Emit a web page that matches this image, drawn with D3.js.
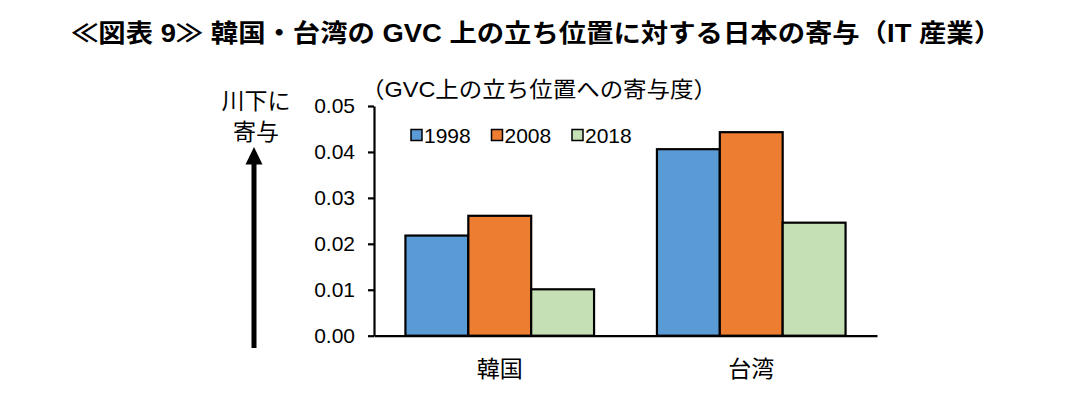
<!DOCTYPE html>
<html><head><meta charset="utf-8">
<script src="https://cdn.jsdelivr.net/npm/d3@7"></script>
<style>
body{margin:0;background:#fff;}
svg text{font-family:"Liberation Sans","Noto Sans CJK JP",sans-serif;fill:#000;}
</style></head>
<body><svg id="c" width="1072" height="394"></svg>
<script>
const categories = ["韓国", "台湾"];
const years = ["1998", "2008", "2018"];
const values1998 = [0.0218, 0.0406];
const values2008 = [0.0261, 0.0443];
const values2018 = [0.0101, 0.0246];
const yTicks = [0, 0.01, 0.02, 0.03, 0.04, 0.05];
const colors = ["#5B9BD5", "#ED7D31", "#C5E0B4"];
const titleText = "≪図表 9≫ 韓国・台湾の GVC 上の立ち位置に対する日本の寄与（IT 産業）";
const yLabel = "（GVC上の立ち位置への寄与度）";
const sideLabel = ["川下に", "寄与"];

const series = [values1998, values2008, values2018];
const svg = d3.select("#c");

const y = d3.scaleLinear().domain([0, 0.05]).range([335.7, 106]);
const x0 = d3.scaleBand().domain(categories).range([374, 877]).padding(0);
const x1 = d3.scaleBand().domain(years).range([0, x0.bandwidth()]).paddingInner(0).paddingOuter(0.5);

// title
svg.append("text").attr("x", 536).attr("y", 42).attr("text-anchor", "middle")
  .attr("font-size", 25).attr("font-weight", "bold")
  .attr("textLength", 930).attr("lengthAdjust", "spacingAndGlyphs")
  .text(titleText);

// bars
categories.forEach((c, ci) => {
  years.forEach((yr, si) => {
    const v = series[si][ci];
    svg.append("rect")
      .attr("x", x0(c) + x1(yr))
      .attr("y", y(v))
      .attr("width", x1.bandwidth())
      .attr("height", y(0) - y(v))
      .attr("fill", colors[si])
      .attr("stroke", "#000").attr("stroke-width", 2.2);
  });
});

// y axis
const ya = svg.append("g").attr("transform", "translate(374,0)")
  .call(d3.axisLeft(y).tickValues(yTicks).tickFormat(d3.format(".2f")).tickSize(6).tickSizeOuter(0).tickPadding(13));
ya.selectAll("path,line").attr("stroke", "#000").attr("stroke-width", 2.2);
ya.selectAll("text").attr("font-size", 21).attr("fill", "#000").style("font-family", "'Liberation Sans',sans-serif");

// x axis
const xa = svg.append("g").attr("transform", "translate(0,335.7)")
  .call(d3.axisBottom(x0).tickSize(0).tickPadding(25));
xa.select("path").attr("stroke", "#000").attr("stroke-width", 2.2);
xa.selectAll("text").attr("font-size", 23).attr("fill", "#000").style("font-family", "'Noto Sans CJK JP',sans-serif");

// y label
svg.append("text").attr("x", 361).attr("y", 97).attr("font-size", 22)
  .attr("textLength", 356).attr("lengthAdjust", "spacingAndGlyphs")
  .text(yLabel);

// legend
const lg = svg.append("g");
years.forEach((yr, i) => {
  const gx = 411 + i * 80.5;
  lg.append("rect").attr("x", gx).attr("y", 129.5).attr("width", 11).attr("height", 11)
    .attr("fill", colors[i]).attr("stroke", "#000").attr("stroke-width", 1.5);
  lg.append("text").attr("x", gx + 13).attr("y", 142.5).attr("font-size", 21)
    .style("font-family", "'Liberation Sans',sans-serif").text(yr);
});

// side label + arrow
svg.append("text").attr("x", 256).attr("y", 109).attr("text-anchor", "middle").attr("font-size", 23).text(sideLabel[0]);
svg.append("text").attr("x", 256).attr("y", 140).attr("text-anchor", "middle").attr("font-size", 23).text(sideLabel[1]);
svg.append("line").attr("x1", 254).attr("x2", 254).attr("y1", 348).attr("y2", 160)
  .attr("stroke", "#000").attr("stroke-width", 5);
svg.append("path").attr("d", d3.line()([[245.5, 164.5], [254, 147], [262.5, 164.5]]) + "Z").attr("fill", "#000");
</script></body></html>
